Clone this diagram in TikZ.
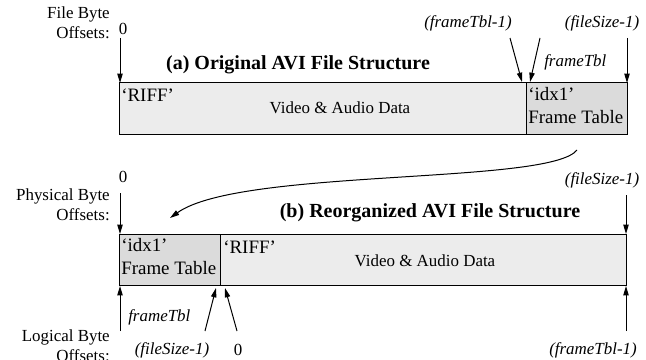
\documentclass[tikz,border=0pt]{standalone}
\usepackage{fontspec}
\setmainfont{Liberation Serif}
\usetikzlibrary{arrows.meta}
\definecolor{datagray}{gray}{0.925}
\definecolor{tblgray}{gray}{0.86}
\tikzset{
  ptr/.style={-{Triangle[length=7pt,width=4pt]}, line width=0.75pt},
  seg/.style={draw, line width=0.75pt, fill=datagray},
  tbl/.style={draw, line width=0.75pt, fill=tblgray},
  txt/.style={inner sep=0.75pt, font=\fontsize{12.7}{15}\selectfont},
  tag/.style={inner sep=0.75pt, font=\fontsize{14.2}{17}\selectfont},
  off/.style={inner sep=0.75pt, font=\fontsize{12.7}{15}\selectfont\itshape},
  side/.style={inner sep=0.75pt, align=right, anchor=east, font=\fontsize{12.7}{15}\selectfont},
  heading/.style={inner sep=0.75pt, font=\fontsize{15}{18}\selectfont\bfseries}
}
\begin{document}
\begin{tikzpicture}[x=0.75pt,y=0.75pt,yscale=-1,xscale=1]
\useasboundingbox (0,0) rectangle (646,360);

%Original layout (a)
\draw [seg] (119,83) rectangle (526,134) ;
\draw [tbl] (526,83) rectangle (627,134) ;
\coordinate (aStart) at (120,83) ;
\coordinate (aLast) at (522,82) ;
\coordinate (aTbl) at (530,82) ;
\coordinate (aEnd) at (627,83) ;
\coordinate (curveFrom) at (577,150) ;

% Text Node
\node [side] (fileOff) at (111,23) {File Byte\\Offsets:};
% Text Node
\node [txt] (zeroA) at (123,29) {0};
% Text Node
\node [off] (lastA) at (468,23) {(frameTbl-1)};
% Text Node
\node [off, anchor=west] (tblA) at (543,62) {frameTbl};
% Text Node
\node [off] (sizeA) at (602,23) {(fileSize-1)};
% Text Node
\node [heading] (titleA) at (298,65) {(a) Original AVI File Structure};
% Text Node
\node [tag, anchor=west] (riffA) at (120,95) {`RIFF'};
% Text Node
\node [txt] (dataA) at (340,108) {Video \& Audio Data};
% Text Node
\node [tag, anchor=north west, align=left] (idxA) at (527,86) {`idx1'\\Frame Table};

\draw [ptr] (120,38) -- (aStart) ;
\draw [ptr] (510,38) -- (aLast) ;
\draw [ptr] (540,38) -- (aTbl) ;
\draw [ptr] (627,38) -- (aEnd) ;

%Reorganized layout (b)
\draw [tbl] (119,234) rectangle (220,285) ;
\draw [seg] (220,234) rectangle (626,285) ;
\coordinate (bStart) at (120,234) ;
\coordinate (bEnd) at (626,234) ;
\coordinate (lStart) at (120,286) ;
\coordinate (lSize) at (216,288) ;
\coordinate (lZero) at (225,288) ;
\coordinate (lEnd) at (626,286) ;
\coordinate (curveTo) at (170,218) ;

% Text Node
\node [txt] (zeroB) at (123,177) {0};
% Text Node
\node [side] (physOff) at (111,205) {Physical Byte\\Offsets:};
% Text Node
\node [off] (sizeB) at (602,180) {(fileSize-1)};
% Text Node
\node [heading] (titleB) at (430,213) {(b) Reorganized AVI File Structure};
% Text Node
\node [tag, anchor=north west, align=left] (idxB) at (120,237) {`idx1'\\Frame Table};
% Text Node
\node [tag, anchor=west] (riffB) at (222,247) {`RIFF'};
% Text Node
\node [txt] (dataB) at (425,261) {Video \& Audio Data};
% Text Node
\node [off, anchor=west] (tblL) at (127,317) {frameTbl};
% Text Node
\node [off] (sizeL) at (172,350) {(fileSize-1)};
% Text Node
\node [txt] (zeroL) at (238,350) {0};
% Text Node
\node [off] (lastL) at (593,350) {(frameTbl-1)};
% Text Node
\node [side] (logOff) at (111,346) {Logical Byte\\Offsets:};

\draw [ptr] (120,193) -- (bStart) ;
\draw [ptr] (626,195) -- (bEnd) ;
\draw [ptr] (120,331) -- (lStart) ;
\draw [ptr] (205,331) -- (lSize) ;
\draw [ptr] (237,331) -- (lZero) ;
\draw [ptr] (626,331) -- (lEnd) ;

%Moved frame table
\draw [ptr] (curveFrom) .. controls (550,185) and (240,168) .. (curveTo) ;

\end{tikzpicture}
\end{document}
